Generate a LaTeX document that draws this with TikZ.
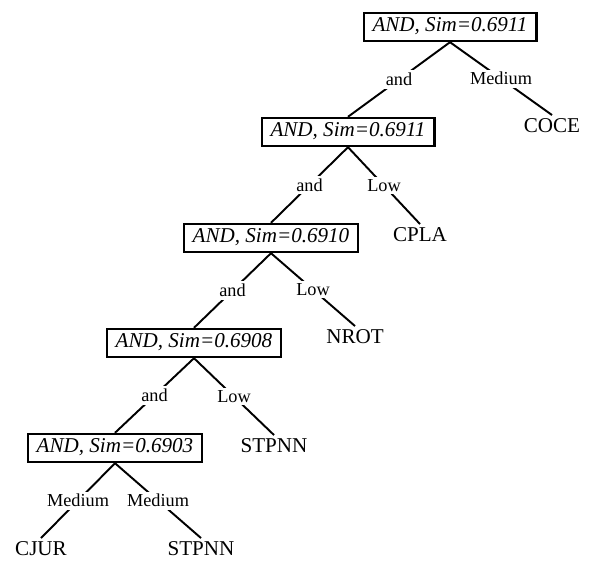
\documentclass[tikz,border=0pt]{standalone}
\usepackage{fontspec}
\setmainfont{Liberation Serif}
\usetikzlibrary{positioning}

\begin{document}
\begin{tikzpicture}[x=0.02cm, y=-0.02cm,
    gate/.style={draw, line width=1.2pt, font=\fontsize{12}{14}\selectfont\itshape,
        inner xsep=5.1pt, inner ysep=3.2pt, text height=0.72em, text depth=0.25em},
    leaf/.style={font=\fontsize{12}{14}\selectfont, inner sep=2pt},
    lbl/.style={fill=white, inner sep=1.5pt, font=\fontsize{10.4}{12}\selectfont}]
    \useasboundingbox (0,0) rectangle (590,560);
    % AND gates
    \node[gate] (g1) at (450,27) {AND, Sim=0.6911};
    \node[gate] (g2) at (348,132) {AND, Sim=0.6911};
    \node[gate] (g3) at (271,238) {AND, Sim=0.6910};
    \node[gate] (g4) at (194,343) {AND, Sim=0.6908};
    \node[gate] (g5) at (115,448) {AND, Sim=0.6903};
    % leaves
    \node[leaf] (coce) at (552,126) {COCE};
    \node[leaf] (cpla) at (420,235) {CPLA};
    \node[leaf] (nrot) at (355,337) {NROT};
    \node[leaf] (stpnnA) at (274,446) {STPNN};
    \node[leaf] (cjur) at (41,549) {CJUR};
    \node[leaf] (stpnnB) at (201,549) {STPNN};
    % edges
    \draw[line width=1.1pt] (g1.south) -- node[lbl] {and} (g2.north);
    \draw[line width=1.1pt] (g1.south) -- node[lbl] {Medium} (coce.north);
    \draw[line width=1.1pt] (g2.south) -- node[lbl] {and} (g3.north);
    \draw[line width=1.1pt] (g2.south) -- node[lbl] {Low} (cpla.north);
    \draw[line width=1.1pt] (g3.south) -- node[lbl] {and} (g4.north);
    \draw[line width=1.1pt] (g3.south) -- node[lbl] {Low} (nrot.north);
    \draw[line width=1.1pt] (g4.south) -- node[lbl] {and} (g5.north);
    \draw[line width=1.1pt] (g4.south) -- node[lbl] {Low} (stpnnA.north);
    \draw[line width=1.1pt] (g5.south) -- node[lbl] {Medium} (cjur.north);
    \draw[line width=1.1pt] (g5.south) -- node[lbl] {Medium} (stpnnB.north);
\end{tikzpicture}
\end{document}
